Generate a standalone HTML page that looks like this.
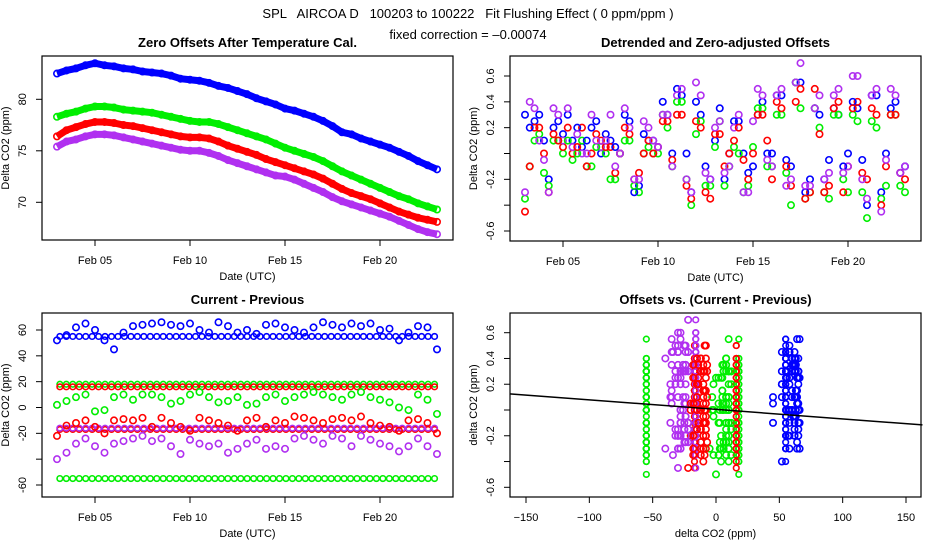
<!DOCTYPE html>
<html><head><meta charset="utf-8"><style>
html,body{margin:0;padding:0;background:#fff;}
svg{display:block;font-family:"Liberation Sans",Arial,sans-serif;}
</style></head><body>
<svg id="chart" width="936" height="540" viewBox="0 0 936 540" xmlns="http://www.w3.org/2000/svg">
<text x="468" y="18" font-size="13" text-anchor="middle" style="white-space:pre">SPL   AIRCOA D   100203 to 100222   Fit Flushing Effect ( 0 ppm/ppm )</text>
<text x="468" y="39" font-size="13" text-anchor="middle">fixed correction = –0.00074</text>
</svg>
<script>
// ---- data ----
const times = [3,3.5,4,4.5,5,5.5,6,6.5,7,7.5,8,8.5,9,9.5,10,10.5,11,11.5,12,12.5,13,13.5,14,14.5,15,15.5,16,16.5,17,17.5,18,18.5,19,19.5,20,20.5,21,21.5,22,22.5,23];
const times2 = [3.25,3.75,4.25,4.75,5.25,5.75,6.25,6.75,7.25,7.75,8.25,8.75,9.25,9.75,10.25,10.75,11.25,11.75,12.25,12.75,13.25,13.75,14.25,14.75,15.25,15.75,16.25,16.75,17.25,17.75,18.25,18.75,19.25,19.75,20.25,20.75,21.25,21.75,22.25,22.75];
const seriesNames = ["blue","green","red","purple"];
const seriesColors = ["#0000ff","#00ee00","#ff0000","#b030f0"];
// panel 1: zero offsets (ppm)
const offBlue = [82.5,82.8,83.0,83.3,83.5,83.3,83.2,83.0,82.9,82.7,82.6,82.5,82.3,82.0,81.9,81.8,81.6,81.3,81.1,80.8,80.5,80.1,79.8,79.5,79.1,78.9,78.6,78.3,77.9,77.4,76.8,76.6,76.2,75.9,75.6,75.3,74.9,74.5,74.0,73.6,73.2];
const offGreen = [78.3,78.6,78.8,79.1,79.3,79.3,79.2,79.0,78.9,78.8,78.7,78.5,78.3,78.1,77.9,77.8,77.8,77.6,77.3,77.0,76.7,76.4,76.1,75.7,75.3,75.0,74.7,74.4,74.0,73.5,73.0,72.6,72.2,71.8,71.4,71.0,70.6,70.3,69.9,69.6,69.3];
const offRed = [76.4,77.0,77.3,77.6,77.8,77.8,77.7,77.5,77.4,77.2,77.0,76.8,76.6,76.4,76.3,76.3,76.2,75.9,75.5,75.2,74.9,74.6,74.2,73.9,73.6,73.3,73.0,72.7,72.3,71.8,71.3,70.9,70.6,70.3,69.9,69.5,69.1,68.8,68.5,68.3,68.1];
const offPurple = [75.4,75.9,76.1,76.4,76.6,76.6,76.5,76.3,76.1,75.9,75.7,75.5,75.3,75.1,75.0,75.0,74.8,74.5,74.1,73.8,73.5,73.2,72.9,72.6,72.5,72.2,71.8,71.4,71.0,70.5,70.1,69.8,69.5,69.2,68.9,68.6,68.2,67.8,67.4,67.1,66.9];
// panel 2: detrended offsets (ppm)
const detBlue = [0.3,0.25,0.1,0.2,0.15,0.1,0.05,0.2,0.0,0.1,0.0,0.25,-0.25,0.1,0.05,0.3,0.5,0.0,0.4,-0.1,0.1,-0.2,0.25,0.0,-0.1,0.4,0.0,0.45,-0.1,0.55,-0.2,0.3,-0.05,0.3,0.0,0.35,-0.4,0.45,0.0,0.4,-0.1];
const detGreen = [-0.35,0.1,-0.15,0.1,0.0,-0.05,0.1,-0.1,0.05,-0.2,0.0,0.1,-0.3,0.05,0.0,0.2,0.4,-0.2,0.15,-0.25,0.05,-0.25,0.05,-0.3,0.05,0.35,-0.1,0.3,-0.4,0.35,-0.3,0.2,-0.35,0.3,-0.3,0.25,-0.5,0.2,-0.25,0.3,-0.3];
const detRed = [-0.45,0.2,0.0,0.15,0.05,0.0,0.2,0.0,0.1,0.05,0.0,0.15,-0.15,0.1,0.05,0.25,0.3,-0.25,0.25,-0.3,0.15,-0.1,0.1,-0.05,0.0,0.3,-0.2,0.35,-0.25,0.5,-0.3,0.15,-0.25,0.4,-0.1,0.4,-0.2,0.3,-0.1,0.3,-0.2];
const detPurple = [-0.3,0.35,-0.05,0.35,0.1,0.05,0.0,0.3,0.05,0.3,0.0,0.2,-0.2,0.2,0.05,0.3,0.45,-0.2,0.55,-0.15,0.2,-0.15,0.2,-0.3,0.25,0.45,-0.1,0.5,-0.2,0.7,-0.25,0.45,-0.15,0.5,-0.1,0.6,-0.35,0.5,-0.05,0.45,-0.1];
const detBlue2 = [0.2,0.3,-0.2,0.25,0.3,0.2,0.1,0.25,0.15,0.05,0.3,-0.3,0.15,0.1,0.4,0.0,0.45,-0.3,0.3,-0.2,0.35,0.0,0.25,-0.15,0.3,0.0,0.45,-0.05,0.55,-0.3,0.35,-0.2,0.35,-0.1,0.4,-0.05,0.45,-0.3,0.35,-0.15];
const detGreen2 = [-0.1,0.15,-0.25,0.1,0.1,0.0,-0.1,0.05,0.0,-0.2,0.1,-0.25,0.0,0.0,0.3,-0.1,0.4,-0.4,0.25,-0.25,0.25,-0.1,0.0,-0.25,0.35,-0.1,0.3,-0.15,0.55,-0.35,0.35,-0.3,0.3,-0.2,0.3,-0.3,0.25,-0.35,0.3,-0.25];
const detRed2 = [-0.1,0.2,-0.3,0.1,0.2,0.05,-0.1,0.15,0.05,-0.15,0.2,-0.2,0.0,0.0,0.25,-0.05,0.3,-0.35,0.2,-0.35,0.15,0.0,0.2,-0.2,0.3,0.1,0.4,-0.1,0.4,-0.35,0.5,-0.3,0.35,-0.3,0.35,-0.15,0.35,-0.4,0.3,-0.15];
const detPurple2 = [0.4,0.1,-0.3,0.3,0.35,0.15,0.0,0.1,0.1,-0.1,0.35,-0.2,0.25,0.1,0.3,-0.1,0.5,-0.3,0.45,-0.2,0.25,-0.1,0.3,-0.3,0.5,-0.05,0.45,-0.25,0.55,-0.25,0.35,-0.2,0.45,-0.15,0.6,-0.2,0.45,-0.45,0.5,-0.15];
// panel 3: current - previous (ppm)
const cpBlue = [52,56,62,65,60,52,45,58,63,64,65,66,64,63,65,60,58,66,63,58,60,57,64,65,62,60,58,62,66,64,62,65,63,65,60,61,52,58,63,62,45];
const cpGreen = [2,5,8,10,-3,-2,8,10,6,10,10,8,3,5,10,12,8,4,5,8,2,3,8,10,5,8,10,12,10,8,6,10,12,8,6,4,0,-2,10,6,-5];
const cpRed = [-22,-14,-12,-10,-15,-20,-10,-9,-10,-8,-15,-8,-12,-15,-18,-8,-10,-12,-14,-18,-10,-8,-15,-10,-12,-7,-8,-10,-12,-9,-8,-10,-7,-12,-14,-15,-18,-10,-9,-12,-20];
const cpPurple = [-40,-35,-28,-24,-30,-35,-28,-26,-24,-22,-26,-24,-30,-36,-25,-28,-30,-28,-35,-32,-28,-25,-32,-30,-32,-24,-22,-25,-28,-22,-24,-30,-22,-25,-28,-30,-34,-30,-24,-30,-36];
// constant current-previous levels and which series they belong to
const levelValues = [55,18,-55,16,-17,-16];
const levelSeries = [0,1,1,2,2,3];
// fit line
const fitIntercept = 0.005;
const fitSlope = -0.00074;
const fitXRange = [-163,163];
// tick labels
const dateTicks = [5,10,15,20];
const dateTickLabels = ["Feb 05","Feb 10","Feb 15","Feb 20"];
const p1YTicks = [70,75,80];
const p2YTicks = [-0.6,-0.4,-0.2,0,0.2,0.4,0.6];
const p2YLabels = ["-0.6","","-0.2","","0.2","0.4","0.6"];
const p3YTicks = [-60,-40,-20,0,20,40,60];
const p3YLabels = ["-60","","-20","0","20","40","60"];
const p4XTicks = [-150,-100,-50,0,50,100,150];

const offs=[offBlue,offGreen,offRed,offPurple];
const dets=[detBlue,detGreen,detRed,detPurple];
const dets2=[detBlue2,detGreen2,detRed2,detPurple2];
const cps=[cpBlue,cpGreen,cpRed,cpPurple];
const NS="http://www.w3.org/2000/svg";
const svg=document.getElementById('chart');
function el(tag,attrs,parent){const e=document.createElementNS(NS,tag);for(const k in attrs)e.setAttribute(k,attrs[k]);(parent||svg).appendChild(e);return e;}
function lin(d0,d1,r0,r1){return v=>r0+(v-d0)*(r1-r0)/(d1-d0);}

function panel(box,title,xlab,ylab,name){
  const g=el('g',{});
  
  
  const r=el('rect',{x:box.x0,y:box.y0,width:box.x1-box.x0,height:box.y1-box.y0,fill:'none',stroke:'#000','stroke-width':1.2},g);
  
  
  const t=el('text',{x:(box.x0+box.x1)/2,y:box.y0-9,'font-size':13,'font-weight':'bold','text-anchor':'middle'},g);
  t.textContent=title;
  
  
  const xl=el('text',{x:(box.x0+box.x1)/2,y:box.y1+40,'font-size':11,'text-anchor':'middle'},g);
  xl.textContent=xlab;
  
  
  const yx=box.x0-33,yy=(box.y0+box.y1)/2;
  const yl=el('text',{x:yx,y:yy,'font-size':11,'text-anchor':'middle',transform:`rotate(-90 ${yx} ${yy})`},g);
  yl.textContent=ylab;
  
  
  return g;
}
function xTicks(g,box,sx,vals,labels){
  vals.forEach((v,i)=>{const x=sx(v);
    el('line',{x1:x,x2:x,y1:box.y1,y2:box.y1+6,stroke:'#000'},g);
    const t=el('text',{x:x,y:box.y1+24,'font-size':11,'text-anchor':'middle'},g);
    t.textContent=labels[i];
    
    });
  el('line',{x1:sx(vals[0]),x2:sx(vals[vals.length-1]),y1:box.y1,y2:box.y1,stroke:'#000'},g);
}
function yTicks(g,box,sy,vals,labels){
  vals.forEach((v,i)=>{const y=sy(v);
    el('line',{x1:box.x0-6,x2:box.x0,y1:y,y2:y,stroke:'#000'},g);
    const tx=box.x0-16;
    const t=el('text',{x:tx,y:y,'font-size':11,'text-anchor':'middle',transform:`rotate(-90 ${tx} ${y})`},g);
    t.textContent=labels[i];
    
    });
}
function pt(g,x,y,c,r){const p=el('circle',{cx:x,cy:y,r:r||2.8,fill:'none',stroke:c,'stroke-width':1.6},g);return p;}

// Panel 1
{const box={x0:42,x1:453,y0:56,y1:240};
 const sx=lin(5,20,95,380), sy=lin(70,80,202.3,99.3);
 const g=panel(box,'Zero Offsets After Temperature Cal.','Date (UTC)','Delta CO2 (ppm)','panel-zero-offsets');
 xTicks(g,box,sx,dateTicks,dateTickLabels); yTicks(g,box,sy,p1YTicks,p1YTicks.map(String));
 offs.forEach((arr,s)=>{
   const pl=el('polyline',{points:arr.map((v,i)=>sx(times[i])+','+sy(v)).join(' '),fill:'none',stroke:seriesColors[s],'stroke-width':7,'stroke-linejoin':'round'},g);
   
   
   arr.forEach((v,i)=>{const c=pt(g,sx(times[i]),sy(v),seriesColors[s],3.2);
     
     });
 });}
// Panel 2
{const box={x0:510,x1:921,y0:56,y1:241};
 const sx=lin(5,20,563,848), sy=lin(-0.6,0.6,231,76);
 const g=panel(box,'Detrended and Zero-adjusted Offsets','Date (UTC)','Delta CO2 (ppm)','panel-detrended-offsets');
 xTicks(g,box,sx,dateTicks,dateTickLabels); yTicks(g,box,sy,p2YTicks,p2YLabels);
 dets.forEach((arr,s)=>arr.forEach((v,i)=>{const c=pt(g,sx(times[i]),sy(v),seriesColors[s],3.2);
   
   }));
 dets2.forEach((arr,s)=>arr.forEach((v,i)=>{const c=pt(g,sx(times2[i]),sy(v),seriesColors[s],3.2);
   
   }));}
// Panel 3
{const box={x0:42,x1:453,y0:313,y1:497};
 const sx=lin(5,20,95,380), sy=lin(-60,60,485,330);
 const g=panel(box,'Current - Previous','Date (UTC)','Delta CO2 (ppm)','panel-current-minus-previous');
 xTicks(g,box,sx,dateTicks,dateTickLabels); yTicks(g,box,sy,p3YTicks,p3YLabels);
 levelValues.forEach((lv,k)=>{const s=levelSeries[k];
   for(let t=times[0]+0.15;t<=times[times.length-1]+0.05;t+=0.34){const c=pt(g,sx(t),sy(lv),seriesColors[s],2.8);
     
     }});
 cps.forEach((arr,s)=>arr.forEach((v,i)=>{const c=pt(g,sx(times[i]),sy(v),seriesColors[s],3.2);
   
   }));}
// Panel 4
{const box={x0:510,x1:921,y0:313,y1:497};
 const sx=lin(-150,150,526,906), sy=lin(-0.6,0.6,487.3,332.7);
 const g=panel(box,'Offsets vs. (Current - Previous)','delta CO2 (ppm)','delta CO2 (ppm)','panel-offsets-vs-change');
 xTicks(g,box,sx,p4XTicks,p4XTicks.map(v=>v<0?'\u2212'+(-v):String(v))); yTicks(g,box,sy,p2YTicks,p2YLabels);
 levelValues.forEach((lv,k)=>{const s=levelSeries[k];
   dets[s].concat(dets2[s]).forEach(v=>{const c=pt(g,sx(lv),sy(v),seriesColors[s],2.8);
     
     });});
 cps.forEach((arr,s)=>arr.forEach((v,i)=>{const c=pt(g,sx(v),sy(dets[s][i]),seriesColors[s],3.2);
   
   }));
 cps.forEach((arr,s)=>dets2[s].forEach((v,i)=>{const c=pt(g,sx(arr[i]),sy(v),seriesColors[s],3.2);
   
   }));
 const fl=el('line',{x1:sx(fitXRange[0]),x2:sx(fitXRange[1]),y1:sy(fitIntercept+fitSlope*fitXRange[0]),y2:sy(fitIntercept+fitSlope*fitXRange[1]),stroke:'#000','stroke-width':1.5},g);
 
 }
</script>
</body></html>
